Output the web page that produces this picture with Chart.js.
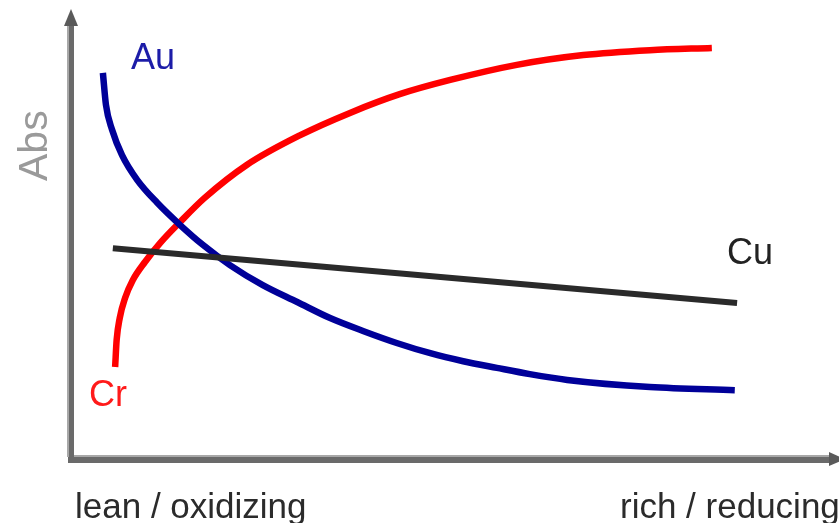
<!DOCTYPE html>
<html>
<head>
<meta charset="utf-8">
<script src="https://cdn.jsdelivr.net/npm/chart.js@4"></script>
<style>
  html, body { margin: 0; padding: 0; background: #fff; }
  #wrap { width: 839px; height: 523px; }
</style>
</head>
<body>
<div id="wrap"><canvas id="c" width="839" height="523"></canvas></div>
<script>
// Schematic: absorbance vs. flame stoichiometry (arbitrary units, 0-100 on both axes).

const crX = [5.9, 6.1, 6.5, 7.2, 8.2, 9.8, 11.8, 14.4, 17.6, 23.1, 30.1, 36.6, 43.1, 49.7, 58.4, 67.1, 75.8, 83.9];
const crY = [20.9, 27.0, 31.9, 36.4, 40.4, 44.5, 48.8, 53.5, 58.9, 66.3, 73.0, 78.0, 82.2, 85.4, 88.8, 91.0, 92.1, 92.6];

const auX = [4.3, 4.7, 5.5, 6.8, 8.8, 11.4, 14.4, 17.4, 20.9, 25.2, 29.7, 34.0, 38.3, 42.7, 47.1, 51.4, 55.8, 60.1, 65.0, 75.8, 86.9];
const auY = [87.0, 79.8, 74.2, 68.5, 62.9, 57.8, 52.8, 48.3, 43.8, 39.3, 35.5, 31.9, 29.0, 26.3, 24.0, 22.2, 20.7, 19.3, 18.0, 16.4, 15.7];

const cuX = [5.6, 87.2];
const cuY = [47.6, 35.3];

const xLabels = ["lean / oxidizing", "rich / reducing"];
const yTitle = "Abs";

const pts = (xs, ys) => xs.map((x, i) => ({ x: x, y: ys[i] }));

function line(label, xs, ys, color, width) {
  return {
    label: label,
    data: pts(xs, ys),
    showLine: true,
    borderColor: color,
    borderWidth: width,
    pointRadius: 0,
    cubicInterpolationMode: "monotone",
    borderCapStyle: "butt",
    fill: false,
  };
}

// axes with arrowheads + the free text labels
const decor = {
  id: "decor",
  beforeDatasetsDraw(chart) {
    const ctx = chart.ctx;
    ctx.save();
    ctx.strokeStyle = "#6a6a6a";
    ctx.fillStyle = "#5a5a5a";
    ctx.lineWidth = 6;
    ctx.beginPath();
    ctx.moveTo(71, 20);
    ctx.lineTo(71, 460);
    ctx.lineTo(832, 460);
    ctx.stroke();
    // light edge like the reference
    ctx.strokeStyle = "#a8a8a8";
    ctx.lineWidth = 2;
    ctx.beginPath();
    ctx.moveTo(68, 22);
    ctx.lineTo(68, 457);
    ctx.moveTo(74, 456);
    ctx.lineTo(830, 456);
    ctx.stroke();
    // arrow heads
    ctx.beginPath();
    ctx.moveTo(71, 9);
    ctx.lineTo(64, 26);
    ctx.lineTo(78, 26);
    ctx.closePath();
    ctx.fill();
    ctx.beginPath();
    ctx.moveTo(845, 459);
    ctx.lineTo(829, 452);
    ctx.lineTo(829, 466);
    ctx.closePath();
    ctx.fill();
    ctx.restore();
  },
  afterDraw(chart) {
    const ctx = chart.ctx;
    ctx.save();
    ctx.textBaseline = "alphabetic";
    ctx.font = "35px 'Liberation Sans', Arial, sans-serif";
    ctx.fillStyle = "#2b2b2b";
    ctx.fillText(xLabels[0], 75, 518);
    ctx.fillText(xLabels[1], 620, 518);

    ctx.font = "36px 'Liberation Sans', Arial, sans-serif";
    ctx.fillStyle = "#1c1ca8";
    ctx.fillText("Au", 131, 69);
    ctx.fillStyle = "#ff1a1a";
    ctx.fillText("Cr", 89, 406);
    ctx.fillStyle = "#222";
    ctx.fillText("Cu", 727, 264);

    ctx.translate(47, 181);
    ctx.rotate(-Math.PI / 2);
    ctx.font = "41px 'Liberation Sans', Arial, sans-serif";
    ctx.fillStyle = "#9a9a9a";
    ctx.fillText(yTitle, 0, 0);
    ctx.restore();
  },
};

new Chart(document.getElementById("c"), {
  type: "scatter",
  data: {
    datasets: [
      line("Cu", cuX, cuY, "#2a2a2a", 6),
      line("Au", auX, auY, "#000099", 6.5),
      line("Cr", crX, crY, "#ff0000", 6.5),
    ],
  },
  options: {
    responsive: false,
    animation: false,
    events: [],
    layout: { padding: { left: 70, right: 4, top: 15, bottom: 63 } },
    plugins: { legend: { display: false }, tooltip: { enabled: false } },
    scales: {
      x: { type: "linear", min: 0, max: 100, display: false },
      y: { type: "linear", min: 0, max: 100, display: false },
    },
  },
  plugins: [decor],
});
</script>
</body>
</html>
